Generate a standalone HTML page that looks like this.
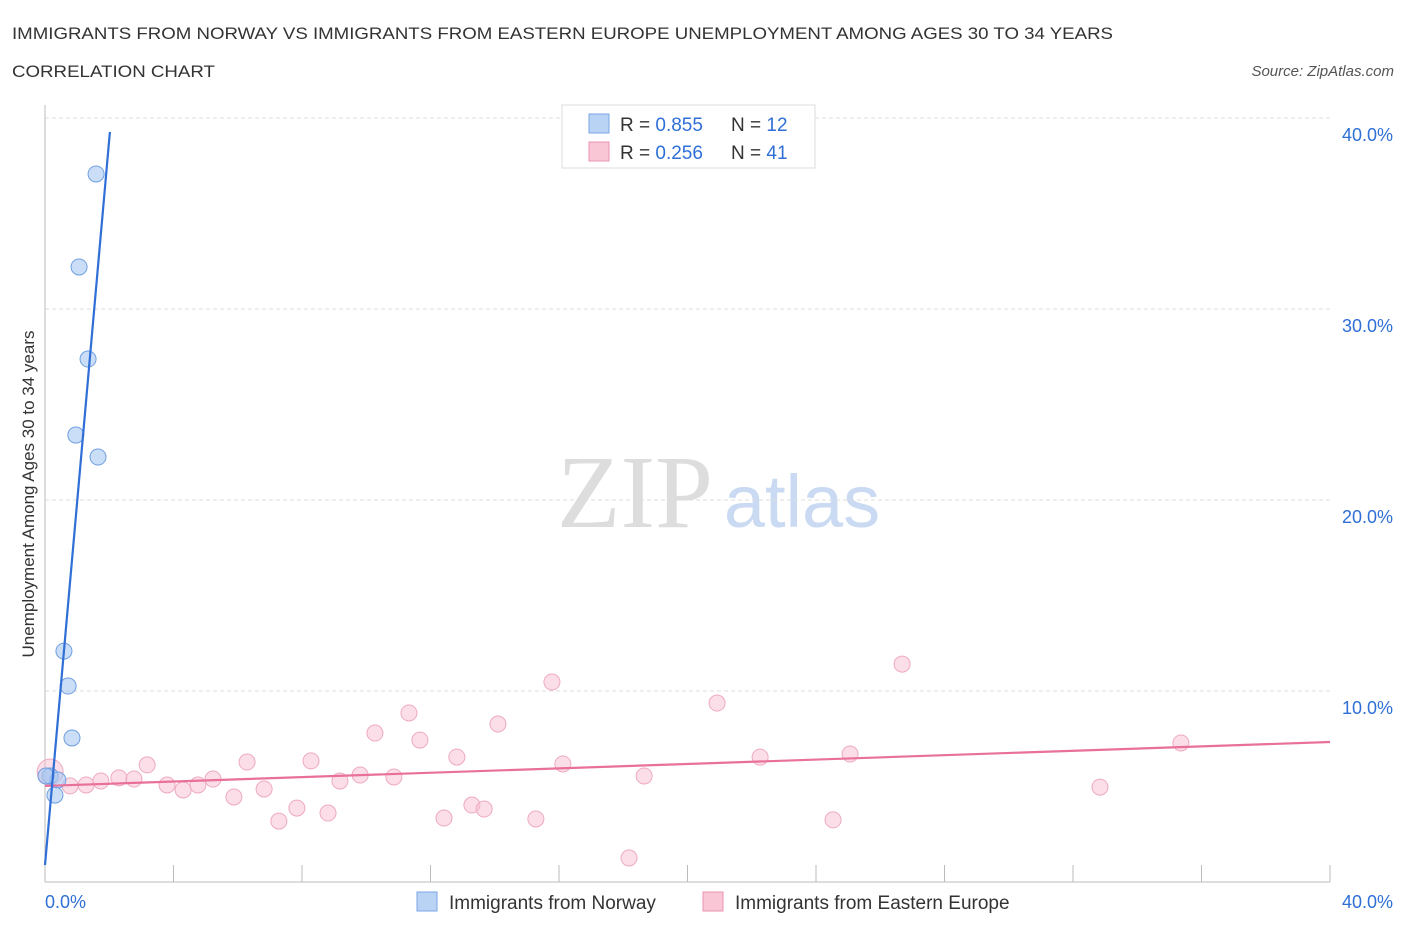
<!DOCTYPE html>
<html><head><meta charset="utf-8"><style>
body{margin:0;background:#fff;font-family:"Liberation Sans",sans-serif;}
svg{display:block}
</style></head><body>
<svg id="chart" width="1406" height="930" xmlns="http://www.w3.org/2000/svg">
<text x="12" y="39" font-size="17" textLength="1101" lengthAdjust="spacingAndGlyphs" fill="#333">IMMIGRANTS FROM NORWAY VS IMMIGRANTS FROM EASTERN EUROPE UNEMPLOYMENT AMONG AGES 30 TO 34 YEARS</text>
<text x="12" y="77" font-size="17" textLength="203" lengthAdjust="spacingAndGlyphs" fill="#333">CORRELATION CHART</text>
<text x="1394" y="76" font-size="15" fill="#555" font-style="italic" text-anchor="end">Source: ZipAtlas.com</text>
<text x="635" y="527" font-size="104" fill="#ddd" font-family="Liberation Serif,serif" text-anchor="middle">ZIP</text>
<text x="802" y="527" font-size="74" fill="#c9daf2" text-anchor="middle">atlas</text>
<g id="grid"></g>
<g id="axes"></g>
<g id="marks"></g>
<text transform="translate(34,494) rotate(-90)" font-size="17" fill="#333" text-anchor="middle">Unemployment Among Ages 30 to 34 years</text>
<g>
<rect x="562" y="105" width="253" height="63" fill="#fff" stroke="#ddd"/>
<rect x="589" y="114" width="20" height="19" fill="#b9d3f5" stroke="#7aa6e6"/>
<text x="620" y="131" font-size="19" fill="#333">R = <tspan fill="#2f6fd6">0.855</tspan></text>
<text x="731" y="131" font-size="19" fill="#333">N = <tspan fill="#2f6fd6">12</tspan></text>
<rect x="589" y="142" width="20" height="19" fill="#f9c6d5" stroke="#e995b0"/>
<text x="620" y="159" font-size="19" fill="#333">R = <tspan fill="#2f6fd6">0.256</tspan></text>
<text x="731" y="159" font-size="19" fill="#333">N = <tspan fill="#2f6fd6">41</tspan></text>
</g>
<g>
<rect x="417" y="892" width="20" height="19" fill="#b9d3f5" stroke="#7aa6e6"/>
<text x="449" y="909" font-size="19" fill="#333">Immigrants from Norway</text>
<rect x="703" y="892" width="20" height="19" fill="#f9c6d5" stroke="#e995b0"/>
<text x="735" y="909" font-size="19" fill="#333">Immigrants from Eastern Europe</text>
</g>
<text x="45" y="908" font-size="18" fill="#2f6fd6">0.0%</text>
<text x="1393" y="908" font-size="18" fill="#2f6fd6" text-anchor="end">40.0%</text>
</svg>
<script>
const yTicks=[10,20,30,40];
const yTickLabels=["10.0%","20.0%","30.0%","40.0%"];
const xTicks=[4,8,12,16,20,24,28,32,36,40];
const norwayX=[1.59,1.06,1.34,0.96,1.65,0.59,0.72,0.84,0.16,0.40,0.31,0.03];
const norwayY=[37.07,32.2,27.38,23.4,22.25,12.09,10.26,7.54,5.55,5.34,4.55,5.55];
const eeX=[0.16,0.78,1.28,1.74,2.30,2.77,3.18,3.80,4.30,4.76,5.23,5.88,6.29,6.82,7.28,7.84,8.28,8.81,9.18,9.81,10.27,10.86,11.33,11.67,12.42,12.82,13.29,13.67,14.10,15.28,15.78,16.12,18.18,18.65,20.92,22.26,24.53,25.06,26.68,32.84,35.36];
const eeY=[5.76,5.03,5.08,5.29,5.45,5.39,6.13,5.08,4.82,5.08,5.39,4.45,6.28,4.87,3.19,3.87,6.34,3.61,5.29,5.60,7.80,5.50,8.85,7.43,3.35,6.54,4.03,3.82,8.27,3.30,10.47,6.18,1.26,5.55,9.37,6.54,3.25,6.70,11.41,4.97,7.28];
const norwayLine=[[0,0.89],[2.02,39.27]];
const eeLine=[[0,5.03],[40,7.33]];
const NS="http://www.w3.org/2000/svg";
const xs=v=>45+v*32.125, ys=v=>882-v*19.1;
function mk(tag,at,parent){const e=document.createElementNS(NS,tag);for(const k in at)e.setAttribute(k,at[k]);document.getElementById(parent).appendChild(e);return e;}
yTicks.forEach((t,i)=>{
 const l=mk('line',{x1:45,x2:1330,y1:ys(t),y2:ys(t),stroke:'#ddd','stroke-dasharray':'4,3'},'grid');
 
 
 const tx=mk('text',{x:1393,y:ys(t)+23,'font-size':18,fill:'#2f6fd6','text-anchor':'end'},'grid');
 tx.textContent=yTickLabels[i];
 
 
});
let a=mk('line',{x1:45,x2:45,y1:105,y2:882,stroke:'#bbb'},'axes');


a=mk('line',{x1:45,x2:1330,y1:882,y2:882,stroke:'#bbb'},'axes');


xTicks.forEach(t=>{
 const l=mk('line',{x1:xs(t),x2:xs(t),y1:865,y2:882,stroke:'#bbb'},'axes');
 
 
});
eeX.forEach((x,i)=>{
 const c=mk('circle',{cx:xs(x),cy:ys(eeY[i]),r:i===0?13:8,fill:'rgba(248,190,208,0.5)',stroke:'#eeaac0','stroke-width':1},'marks');
 
 
});
norwayX.forEach((x,i)=>{
 const c=mk('circle',{cx:xs(x),cy:ys(norwayY[i]),r:8,fill:'rgba(169,200,242,0.6)',stroke:'#6f9fe0','stroke-width':1},'marks');
 
 
});
let ln=mk('line',{x1:xs(eeLine[0][0]),y1:ys(eeLine[0][1]),x2:xs(eeLine[1][0]),y2:ys(eeLine[1][1]),stroke:'#e8709a','stroke-width':2.2},'marks');


ln=mk('line',{x1:xs(norwayLine[0][0]),y1:ys(norwayLine[0][1]),x2:xs(norwayLine[1][0]),y2:ys(norwayLine[1][1]),stroke:'#2f6fd6','stroke-width':2.2},'marks');


</script>
</body></html>
